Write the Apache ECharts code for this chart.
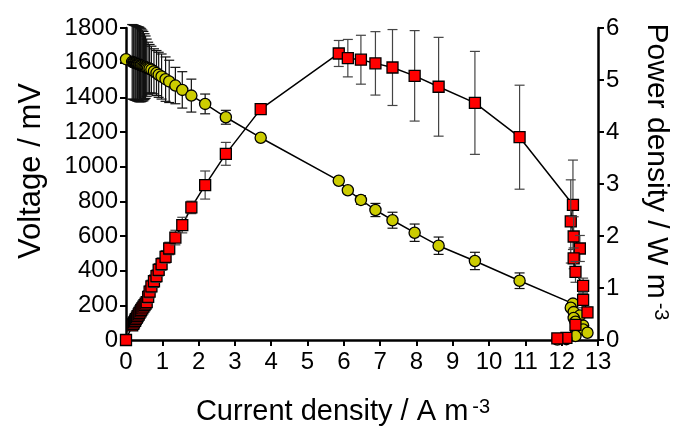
<!DOCTYPE html>
<html><head><meta charset="utf-8">
<script src="https://cdn.jsdelivr.net/npm/echarts@6/dist/echarts.min.js"></script>
<style>html,body{margin:0;padding:0;background:#fff}#c{width:680px;height:434px}</style>
</head><body><div id="c"></div>
<script>
// Current density (A m^-3), shared by both series
var current = [0,
  0.17,0.20,0.22,0.25,0.27,0.30,0.32,0.35,0.37,0.40,0.42,0.45,0.48,0.51,0.54,0.57,
  0.61,0.65,0.70,0.77,0.84,0.90,0.98,1.09,1.19,1.36,1.55,1.80,2.18,2.75,3.71,
  5.86,6.11,6.47,6.87,7.34,7.95,8.61,9.61,10.84,
  12.31,12.25,12.33,12.50,12.33,12.38,12.59,12.59,12.71,12.38,12.13,11.88];
// Voltage (mV) and its error
var voltage = [1620,
  1605,1603,1601,1599,1597,1595,1593,1591,1589,1587,1585,1583,1580,1577,1574,1571,
  1568,1565,1560,1550,1540,1530,1520,1505,1492,1468,1443,1410,1362,1285,1167,
  919,864,808,750,691,619,544,456,342,
  210,186,161,141,127,106,83,61,42,23,5,3];
var voltageErr = [0,
  215,215,215,215,215,215,215,215,215,212,210,205,200,190,180,165,
  150,140,135,130,130,130,130,128,122,105,105,95,57,40,10,
  8,8,25,38,46,50,50,50,45,
  15,15,15,15,15,15,15,12,12,10,5,5];
// Power density (W m^-3) and its error
var power = [0,
  0.28,0.31,0.34,0.37,0.40,0.43,0.46,0.49,0.52,0.55,0.58,0.61,0.64,0.67,0.70,0.73,
  0.83,0.93,1.03,1.13,1.23,1.35,1.46,1.60,1.76,1.97,2.21,2.55,2.98,3.58,4.44,
  5.51,5.42,5.39,5.32,5.24,5.08,4.87,4.56,3.90,
  2.60,2.28,1.99,1.76,1.57,1.31,1.04,0.77,0.53,0.29,0.04,0.03];
var powerErr = [0,
  0.08,0.08,0.08,0.08,0.08,0.08,0.08,0.08,0.08,0.08,0.08,0.08,0.08,0.08,0.08,0.08,
  0.12,0.12,0.12,0.12,0.12,0.12,0.12,0.12,0.12,0.14,0.15,0.12,0.27,0.22,0.05,
  0.25,0.36,0.47,0.61,0.73,0.87,0.95,0.99,1.0,
  0.86,0.80,0.38,0.25,0.2,0.2,0.15,0.15,0.1,0.1,0.02,0.02];
var xTicks = {min:0, max:13, step:1};
var vTicks = {min:0, max:1800, step:200};
var pTicks = {min:0, max:6, step:1};

var FONT = "'Liberation Sans', Arial, sans-serif";
function pairs(xs, ys, es){ return xs.map(function(x,i){ return [x, ys[i], es[i]]; }); }
var vData = pairs(current, voltage, voltageErr);
var pData = pairs(current, power, powerErr);

function makeRender(kind){
  return function(params, api){
    var x = api.value(0), y = api.value(1), e = api.value(2);
    var c = api.coord([x, y]);
    var children = [];
    if (e > 0){
      var t = api.coord([x, y + e]), b = api.coord([x, y - e]);
      var col = kind === 'v' ? '#111' : '#444';
      var ls = {stroke: col, lineWidth: 1.2};
      children.push({type:'line', shape:{x1:c[0], y1:t[1], x2:c[0], y2:b[1]}, style: ls});
      children.push({type:'line', shape:{x1:c[0]-5, y1:t[1], x2:c[0]+5, y2:t[1]}, style: ls});
      children.push({type:'line', shape:{x1:c[0]-5, y1:b[1], x2:c[0]+5, y2:b[1]}, style: ls});
    }
    if (kind === 'v'){
      children.push({type:'circle', shape:{cx:c[0], cy:c[1], r:5.6},
        style:{fill:'#cccc00', stroke:'#000', lineWidth:1.3}});
    } else {
      children.push({type:'rect', shape:{x:c[0]-5.5, y:c[1]-5.5, width:11, height:11},
        style:{fill:'#ff0000', stroke:'#000', lineWidth:1.3}});
    }
    return {type:'group', children: children};
  };
}

var axisLine = {show:true, lineStyle:{color:'#000', width:2.5}};
var axisTick = {show:true, length:6, lineStyle:{color:'#000', width:2}};
function lab(m){ return {color:'#000', fontSize:24, fontFamily:FONT, margin:m,
  formatter:function(v){ return String(v); }}; }

var chart = echarts.init(document.getElementById('c'), null, {renderer:'canvas'});
chart.setOption({
  animation:false,
  backgroundColor:'#fff',
  grid:{left:126, right:82, top:28, bottom:94, containLabel:false},
  xAxis:{type:'value', min:xTicks.min, max:xTicks.max, interval:xTicks.step,
    axisLine:axisLine, axisTick:axisTick, axisLabel:lab(10), splitLine:{show:false}},
  yAxis:[
    {type:'value', position:'left', min:vTicks.min, max:vTicks.max, interval:vTicks.step,
      axisLine:axisLine, axisTick:axisTick, axisLabel:lab(8), splitLine:{show:false}},
    {type:'value', position:'right', min:pTicks.min, max:pTicks.max, interval:pTicks.step,
      axisLine:axisLine, axisTick:axisTick, axisLabel:lab(8), splitLine:{show:false}}
  ],
  graphic:[
    {type:'text', x:343, y:412, style:{text:'{b|Current density / A m}{s|-3}', textAlign:'center', textVerticalAlign:'middle',
      rich:{b:{fontSize:29, fontFamily:FONT, fill:'#000'}, s:{fontSize:20, fontFamily:FONT, fill:'#000', verticalAlign:'top', padding:[0,0,0,4]}}}},
    {type:'text', x:31, y:171, rotation:Math.PI/2, style:{text:'Voltage / mV', textAlign:'center', textVerticalAlign:'middle',
      font:'31px ' + FONT, fill:'#000'}},
    {type:'text', x:656, y:172, rotation:-Math.PI/2, style:{text:'{b|Power density / W m}{s|-3}', textAlign:'center', textVerticalAlign:'middle',
      rich:{b:{fontSize:30, fontFamily:FONT, fill:'#000'}, s:{fontSize:20, fontFamily:FONT, fill:'#000', verticalAlign:'top', padding:[0,0,0,4]}}}}
  ],
  series:[
    {type:'line', xAxisIndex:0, yAxisIndex:0, data:vData.map(function(d){return [d[0],d[1]];}),
      showSymbol:false, lineStyle:{color:'#000', width:1.5}, z:1, silent:true},
    {type:'line', xAxisIndex:0, yAxisIndex:1, data:pData.map(function(d){return [d[0],d[1]];}),
      showSymbol:false, lineStyle:{color:'#000', width:1.5}, z:1, silent:true},
    {type:'custom', xAxisIndex:0, yAxisIndex:0, data:vData, renderItem:makeRender('v'), z:2, clip:false,
      encode:{x:0, y:1}},
    {type:'custom', xAxisIndex:0, yAxisIndex:1, data:pData, renderItem:makeRender('p'), z:3, clip:false,
      encode:{x:0, y:1}}
  ]
});
</script></body></html>
